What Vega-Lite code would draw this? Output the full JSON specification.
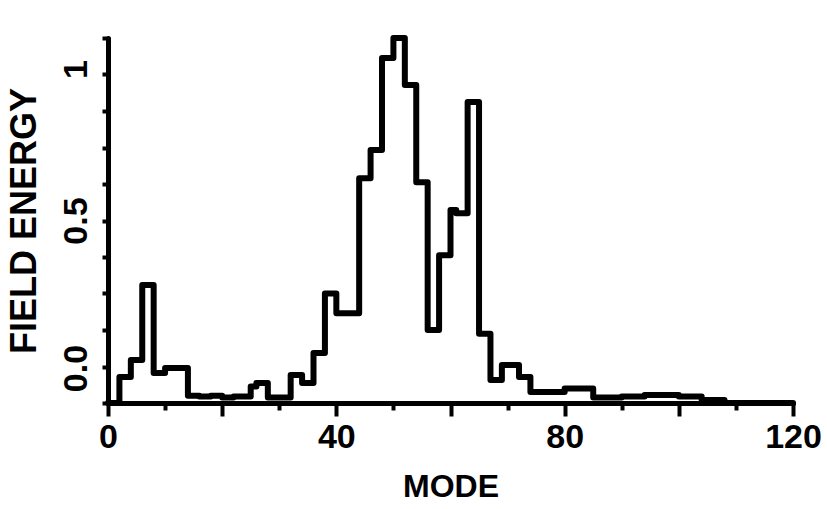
{
  "$schema": "https://vega.github.io/schema/vega-lite/v6.json",
  "width": 685,
  "height": 365,
  "autosize": "none",
  "padding": {"left": 108, "top": 38, "right": 34, "bottom": 106},
  "background": "white",
  "config": {"view": {"stroke": null}},
  "data": {"values": [
    {"mode": 0, "energy": 0.0},
    {"mode": 2, "energy": 0.071},
    {"mode": 4, "energy": 0.118},
    {"mode": 6, "energy": 0.323},
    {"mode": 8, "energy": 0.082},
    {"mode": 10, "energy": 0.096},
    {"mode": 14, "energy": 0.02},
    {"mode": 16, "energy": 0.018},
    {"mode": 18, "energy": 0.02},
    {"mode": 20, "energy": 0.015},
    {"mode": 22, "energy": 0.018},
    {"mode": 25, "energy": 0.045},
    {"mode": 26, "energy": 0.055},
    {"mode": 28, "energy": 0.015},
    {"mode": 32, "energy": 0.077},
    {"mode": 34, "energy": 0.055},
    {"mode": 36, "energy": 0.137},
    {"mode": 38, "energy": 0.3},
    {"mode": 40, "energy": 0.246},
    {"mode": 44, "energy": 0.616},
    {"mode": 46, "energy": 0.693},
    {"mode": 48, "energy": 0.945},
    {"mode": 50, "energy": 1.0},
    {"mode": 52, "energy": 0.871},
    {"mode": 54, "energy": 0.605},
    {"mode": 56, "energy": 0.2},
    {"mode": 58, "energy": 0.405},
    {"mode": 60, "energy": 0.529},
    {"mode": 61, "energy": 0.52},
    {"mode": 63, "energy": 0.825},
    {"mode": 65, "energy": 0.19},
    {"mode": 67, "energy": 0.063},
    {"mode": 69, "energy": 0.104},
    {"mode": 72, "energy": 0.071},
    {"mode": 74, "energy": 0.03},
    {"mode": 80, "energy": 0.04},
    {"mode": 85, "energy": 0.015},
    {"mode": 90, "energy": 0.018},
    {"mode": 94, "energy": 0.022},
    {"mode": 100, "energy": 0.018},
    {"mode": 104, "energy": 0.008},
    {"mode": 108, "energy": 0.0},
    {"mode": 120, "energy": 0.0}
  ]},
  "mark": {"type": "line", "interpolate": "step-after", "color": "black", "strokeWidth": 6, "strokeJoin": "round", "strokeCap": "round"},
  "encoding": {
    "x": {
      "field": "mode", "type": "quantitative",
      "scale": {"domain": [0, 120], "nice": false},
      "axis": {
        "title": "MODE",
        "values": [0, 10, 20, 30, 40, 50, 60, 70, 80, 90, 100, 110, 120],
        "labelExpr": "datum.value % 40 == 0 ? datum.label : ''",
        "grid": false,
        "domainColor": "black", "domainWidth": 5, "domainCap": "round",
        "tickColor": "black", "tickWidth": 4,
        "tickSize": {"condition": {"test": "datum.value % 20 == 0", "value": 13}, "value": 7},
        "labelFont": "Liberation Sans", "labelFontWeight": "bold", "labelFontSize": 34, "labelColor": "black",
        "labelPadding": 4, "labelFlush": false,
        "titleFont": "Liberation Sans", "titleFontWeight": "bold", "titleFontSize": 32, "titleColor": "black",
        "titlePadding": 17
      }
    },
    "y": {
      "field": "energy", "type": "quantitative",
      "scale": {"domain": [0, 1], "nice": false},
      "axis": {
        "title": "FIELD ENERGY",
        "values": [0, 0.1, 0.2, 0.3, 0.4, 0.5, 0.6, 0.7, 0.8, 0.9, 1],
        "labelExpr": "datum.value == 0 ? '0.0' : datum.value == 0.5 ? '0.5' : datum.value == 1 ? '1' : ''",
        "grid": false,
        "domainColor": "black", "domainWidth": 5, "domainCap": "round",
        "tickColor": "black", "tickWidth": 4, "tickSize": 6,
        "labelAngle": -90,
        "labelOffset": {"condition": [{"test": "datum.value == 0", "value": -35}, {"test": "datum.value == 1", "value": 31}], "value": 0},
        "labelFont": "Liberation Sans", "labelFontWeight": "bold", "labelFontSize": 34, "labelColor": "black",
        "labelPadding": 9, "labelFlush": false,
        "titleFont": "Liberation Sans", "titleFontWeight": "bold", "titleFontSize": 36, "titleColor": "black",
        "titlePadding": 16
      }
    }
  }
}
